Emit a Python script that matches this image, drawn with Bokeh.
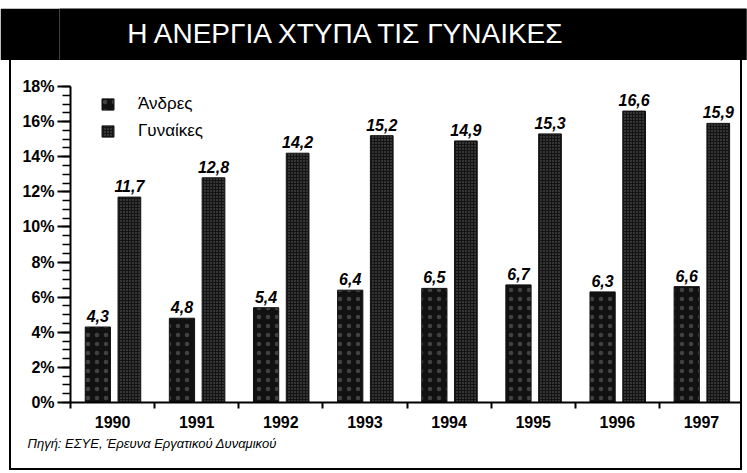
from bokeh.plotting import figure
from bokeh.layouts import column
from bokeh.models import (ColumnDataSource, Range1d, FixedTicker, SingleIntervalTicker,
                          PrintfTickFormatter, Label, LinearAxis, Title)
from bokeh.transform import dodge
from bokeh.core.properties import value
from bokeh.embed import file_html
from bokeh.resources import INLINE

# ---- data ----
years = ["1990", "1991", "1992", "1993", "1994", "1995", "1996", "1997"]
men = [4.3, 4.8, 5.4, 6.4, 6.5, 6.7, 6.3, 6.6]
women = [11.7, 12.8, 14.2, 15.2, 14.9, 15.3, 16.6, 15.9]
y_ticks = [0, 2, 4, 6, 8, 10, 12, 14, 16, 18]

title_text = "Η ΑΝΕΡΓΙΑ ΧΤΥΠΑ ΤΙΣ ΓΥΝΑΙΚΕΣ"
source_text = "Πηγή: ΕΣΥΕ, Έρευνα Εργατικού Δυναμικού"
series_names = ["Άνδρες", "Γυναίκες"]

SANS = "Liberation Sans"

pos = [i + 0.5 for i in range(len(years))]
fmt = lambda v: f"{v:.1f}".replace(".", ",")
src = ColumnDataSource(dict(pos=pos, year=years, men=men, women=women,
                            men_lbl=[fmt(v) for v in men],
                            women_lbl=[fmt(v) for v in women]))

# ---- header ----
head = figure(width=747, height=52, x_range=Range1d(0, 1), y_range=Range1d(0, 1),
              toolbar_location=None, output_backend="svg", min_border=0,
              x_axis_location=None, y_axis_location=None,
              background_fill_color="black", border_fill_color="black",
              outline_line_color=None, styles={"margin-top": "8px"})
head.grid.visible = False
head.add_layout(Label(x=288, y=0.52, x_units="screen", text=title_text,
                      text_align="center", text_baseline="middle", text_color="white",
                      text_font=SANS, text_font_size="28px"))

# ---- chart ----
p = figure(width=733, height=410, x_range=Range1d(0, len(years)),
           y_range=Range1d(y_ticks[0], y_ticks[-1]),
           toolbar_location=None, output_backend="svg",
           min_border_left=59, min_border_right=1, min_border_top=26,
           min_border_bottom=68, outline_line_color=None,
           x_axis_location=None, y_axis_location=None,
           styles={"margin-left": "9px", "border-left": "2px solid black",
                   "border-right": "2px solid black", "border-bottom": "2px solid black"})
p.grid.visible = False

men_r = p.vbar(x=dodge("pos", -0.175, range=p.x_range), top="men", width=0.3, source=src,
               fill_color="#111111", line_color="#111111",
               hatch_pattern=".", hatch_color="white", hatch_alpha=0.2,
               hatch_scale=9, hatch_weight=1, legend_label=series_names[0])
wom_r = p.vbar(x=dodge("pos", 0.2, range=p.x_range), top="women", width=0.27, source=src,
               fill_color="#141414", line_color="#141414",
               hatch_pattern=".", hatch_color="white", hatch_alpha=0.35,
               hatch_scale=3, hatch_weight=1, legend_label=series_names[1])

for col, off in (("men", -0.175), ("women", 0.2)):
    p.text(x=dodge("pos", off, range=p.x_range), y=col, text=col + "_lbl", source=src,
           text_align="center", text_baseline="bottom", y_offset=-5,
           text_font=value(SANS), text_font_style="bold italic",
           text_font_size="16px", text_color="black")

# y axis
yax = LinearAxis(ticker=SingleIntervalTicker(interval=2, num_minor_ticks=4),
                 formatter=PrintfTickFormatter(format="%d%%"))
yax.axis_line_width = 2
yax.major_tick_line_width = 2
yax.minor_tick_line_width = 1.5
yax.major_tick_out = 13
yax.major_tick_in = 0
yax.minor_tick_out = 8
yax.minor_tick_in = 0
yax.major_label_standoff = 3
yax.major_label_text_font = SANS
yax.major_label_text_font_style = "bold"
yax.major_label_text_font_size = "16px"
yax.major_label_text_color = "black"
p.add_layout(yax, "left")

# x axis: labels at centres, ticks at boundaries
xax = LinearAxis(ticker=FixedTicker(ticks=pos, minor_ticks=list(range(len(years) + 1))))
xax.major_label_overrides = {pv: y for pv, y in zip(pos, years)}
xax.axis_line_width = 2
xax.major_tick_line_color = None
xax.major_tick_out = 0
xax.major_tick_in = 0
xax.minor_tick_out = 6
xax.minor_tick_in = 0
xax.minor_tick_line_width = 2
xax.major_label_standoff = 7
xax.major_label_text_font = SANS
xax.major_label_text_font_style = "bold"
xax.major_label_text_font_size = "16px"
xax.major_label_text_color = "black"
p.add_layout(xax, "below")

leg = p.legend[0]
leg.location = (30, 261)
leg.padding = 0
leg.margin = 0
leg.spacing = 7
leg.glyph_width = 15
leg.glyph_height = 14
leg.label_height = 20
leg.label_standoff = 23
leg.border_line_color = None
leg.background_fill_alpha = 0
leg.label_text_font = SANS
leg.label_text_font_size = "17px"
leg.label_text_color = "black"

p.add_layout(Title(text=source_text, align="left", offset=-43, standoff=7,
                   text_font=SANS, text_font_style="italic", text_font_size="13px",
                   text_color="black"), "below")

layout = column(head, p, spacing=0)

open("out.html", "w").write(file_html(layout, INLINE))
